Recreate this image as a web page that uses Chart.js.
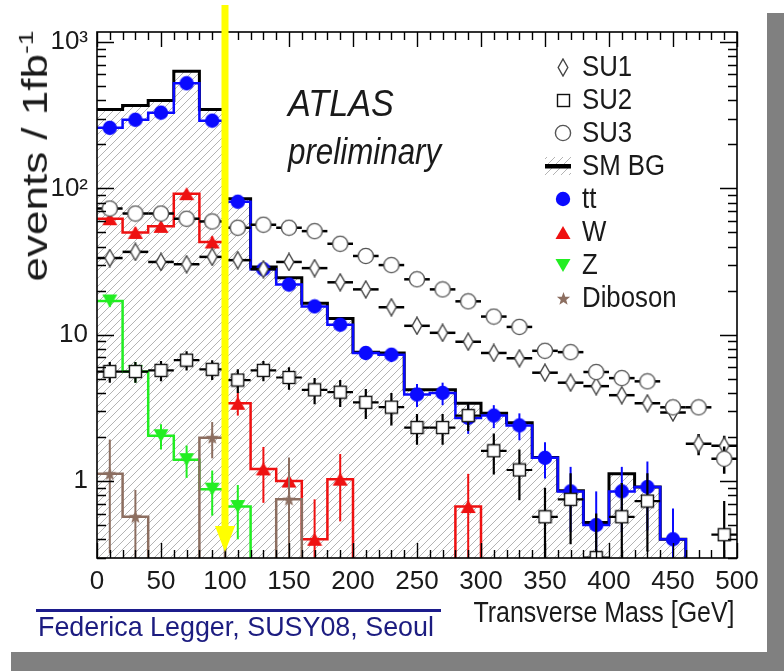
<!DOCTYPE html>
<html>
<head>
<meta charset="utf-8">
<script src="https://cdn.jsdelivr.net/npm/chart.js@4.4.0/dist/chart.umd.min.js"></script>
<style>
  html, body { margin: 0; padding: 0; background: #fff; }
  #wrap { position: relative; width: 784px; height: 671px; overflow: hidden;
          font-family: "Liberation Sans", Arial, sans-serif; }
  #c { position: absolute; left: 0; top: 0; }
  .band { position: absolute; background: #808080; }
  .t { position: absolute; white-space: nowrap; line-height: 1; color: #1a1a1a; }
</style>
</head>
<body>
<div id="wrap">
  <div class="band" style="left:767px;top:13px;width:17px;height:658px"></div>
  <div class="band" style="left:11px;top:652px;width:773px;height:19px"></div>
  <canvas id="c" width="784" height="671"></canvas>
  <div class="t" style="left:34px;top:156px;font-size:44px;transform:translate(-50%,-50%) rotate(-90deg) scaleY(0.78);">events / 1fb<sup style="font-size:60%;vertical-align:0.7em">-1</sup></div>
  <div class="t" style="left:288px;top:86px;font-size:36px;font-style:italic;transform-origin:0 0;transform:scaleX(0.95);">ATLAS</div>
  <div class="t" style="left:288px;top:134px;font-size:36px;font-style:italic;transform-origin:0 0;transform:scaleX(0.87);">preliminary</div>
  <div style="position:absolute;left:36px;top:609px;width:405px;height:3px;background:#1c1c8c"></div>
  <div class="t" style="left:38px;top:613px;font-size:28px;color:#1c1c80;transform-origin:0 0;transform:scaleX(0.96);">Federica Legger, SUSY08, Seoul</div>
  <div class="t" style="right:49px;top:598px;font-size:29px;transform-origin:100% 0;transform:scaleX(0.86);">Transverse Mass [GeV]</div>
</div>
<script>
// Transverse-mass histograms, 20 GeV bins from 0 to 500 GeV (events per 1 fb^-1)
const binCenters = [10, 30, 50, 70, 90, 110, 130, 150, 170, 190, 210, 230, 250,
                    270, 290, 310, 330, 350, 370, 390, 410, 430, 450, 470, 490];
const binWidth = 20;

// Standard Model backgrounds
const smBG     = [345, 368, 398, 631, 345, 85, 29, 24.5, 16.4, 12.9, 7.6, 7.5, 4.2,
                  4.2, 3.4, 2.9, 2.5, 1.45, 0.86, 0.52, 1.12, 0.91, 0.40, 0, 0];
const ttbar    = [259, 294, 329, 522, 290, 81, 28, 22, 15.6, 11.7, 7.5, 7.3, 3.9,
                  4.0, 2.7, 2.8, 2.4, 1.44, 0.85, 0.50, 0.85, 0.91, 0.40, 0, 0];
const ttbarErr = [6, 6, 7, 10, 6, 3, 1.6, 1.4, 1.0, 1.0, 0.8, 0.8, 0.7,
                  0.7, 0.6, 0.5, 0.5, 0.4, 0.4, 0.35, 0.4, 0.45, 0.25, 0, 0];
const wjets    = [62, 50, 55, 92, 43, 3.4, 1.21, 1.0, 0.40, 1.03, 0, 0, 0,
                  0, 0.67, 0, 0, 0, 0, 0, 0, 0, 0, 0, 0];
const wjetsErr = [4, 4, 4, 6, 4, 0.6, 0.5, 0.35, 0.35, 0.5, 0, 0, 0,
                  0, 0.45, 0, 0, 0, 0, 0, 0, 0, 0, 0, 0];
const zjets    = [17, 5.6, 2.04, 1.40, 0.88, 0.67, 0, 0, 0, 0, 0, 0, 0,
                  0, 0, 0, 0, 0, 0, 0, 0, 0, 0, 0, 0];
const zjetsErr = [1.5, 0.9, 0.4, 0.35, 0.3, 0.27, 0, 0, 0, 0, 0, 0, 0,
                  0, 0, 0, 0, 0, 0, 0, 0, 0, 0, 0, 0];
const diboson    = [1.12, 0.57, 0, 0, 1.98, 0, 0, 0.75, 0, 0, 0, 0, 0,
                    0, 0, 0, 0, 0, 0, 0, 0, 0, 0, 0, 0];
const dibosonErr = [0.8, 0.3, 0, 0, 0.55, 0, 0, 0.7, 0, 0, 0, 0, 0,
                    0, 0, 0, 0, 0, 0, 0, 0, 0, 0, 0, 0];

// SUSY benchmark points
const su1    = [33.4, 36.8, 31.4, 30.3, 34, 32.3, 28, 31.4, 28.5, 22.8, 20.4, 15.4, 11.5,
                10.3, 8.95, 7.5, 6.9, 5.5, 4.7, 4.45, 3.86, 3.4, 2.94, 1.8, 1.74];
const su1Err = [0, 0, 0, 0, 0, 0, 0, 0, 0, 0, 0, 0, 0,
                0, 0, 0, 0, 0, 0, 0, 0, 0, 0.25, 0.3, 0.3];
const su2    = [5.6, 5.6, 5.7, 6.7, 5.8, 4.9, 5.7, 5.1, 4.2, 4.05, 3.45, 3.2, 2.32,
                2.32, 2.8, 1.61, 1.19, 0.57, 0.75, 0.30, 0.57, 0.73, 0, 0, 0.43];
const su2Err = [0.9, 0.9, 0.9, 1.0, 0.9, 0.9, 0.9, 0.9, 0.85, 0.85, 0.8, 0.8, 0.55,
                0.55, 0.6, 0.5, 0.45, 0.33, 0.38, 0.3, 0.4, 0.4, 0, 0, 0.3];
const su3    = [72.8, 67.3, 67.3, 62, 59.4, 53.8, 56.4, 53.8, 51, 41.8, 34.5, 29.9, 23.9,
                20.4, 16.9, 13.3, 11.3, 7.76, 7.6, 5.56, 5.05, 4.8, 3.19, 3.19, 1.42];
const su3Err = [0, 0, 0, 0, 0, 0, 0, 0, 0, 0, 0, 0, 0,
                0, 0, 0, 0, 0, 0, 0, 0, 0, 0, 0, 0.3];

// Axis ticks
const xTickValues = [0, 50, 100, 150, 200, 250, 300, 350, 400, 450, 500];
const yTickValues = [1, 10, 100, 1000];
const yTickLabels = ['1', '10', '10\u00B2', '10\u00B3'];

// Cut marker: arrow at m_T = 100 GeV
const cutValue = 100;

const COLORS = { sm: '#000000', tt: '#0a0aff', w: '#ee1111', z: '#22ee22', vv: '#8c6e60',
                 hatch: '#b4b4b4', arrow: '#ffff00' };
const FLOOR = 1e-3;           // empty bins are drawn below the visible range

// ---------- marker images ----------
function mk(w, h, draw) {
  const c = document.createElement('canvas');
  c.width = w; c.height = h;
  draw(c.getContext('2d'), w, h);
  return c;
}
const dotImg = mk(16, 16, (g) => { g.beginPath(); g.arc(8, 8, 7.2, 0, Math.PI * 2); g.fillStyle = COLORS.tt; g.fill(); });
const triUpImg = mk(16, 15, (g) => { g.beginPath(); g.moveTo(8, 1); g.lineTo(15.5, 14); g.lineTo(0.5, 14); g.closePath(); g.fillStyle = COLORS.w; g.fill(); });
const triDownImg = mk(16, 15, (g) => { g.beginPath(); g.moveTo(0.5, 1); g.lineTo(15.5, 1); g.lineTo(8, 14); g.closePath(); g.fillStyle = COLORS.z; g.fill(); });
const starImg = mk(15, 15, (g) => {
  g.beginPath();
  for (let k = 0; k < 10; k++) {
    const r = k % 2 === 0 ? 7 : 2.9;
    const a = -Math.PI / 2 + k * Math.PI / 5;
    const px = 7.5 + r * Math.cos(a), py = 8 + r * Math.sin(a);
    k === 0 ? g.moveTo(px, py) : g.lineTo(px, py);
  }
  g.closePath(); g.fillStyle = COLORS.vv; g.fill();
});
const diamondImg = mk(12, 19, (g, w, h) => {
  g.beginPath(); g.moveTo(w / 2, 1); g.lineTo(w - 1.2, h / 2); g.lineTo(w / 2, h - 1); g.lineTo(1.2, h / 2); g.closePath();
  g.fillStyle = '#fff'; g.fill(); g.strokeStyle = '#444'; g.lineWidth = 1.4; g.stroke();
});
const squareImg = mk(15, 15, (g) => {
  g.fillStyle = '#fff'; g.fillRect(1, 1, 13, 13); g.strokeStyle = '#111'; g.lineWidth = 1.4; g.strokeRect(1.5, 1.5, 12, 12);
});
const circleImg = mk(18, 18, (g) => {
  g.beginPath(); g.arc(9, 9, 7.6, 0, Math.PI * 2); g.fillStyle = '#fff'; g.fill();
  g.strokeStyle = '#555'; g.lineWidth = 1.4; g.stroke();
});

// hatch pattern for the SM background
const hatchTile = mk(8, 8, (g) => {
  g.strokeStyle = COLORS.hatch; g.lineWidth = 1;
  g.beginPath(); g.moveTo(-1, 9); g.lineTo(9, -1); g.moveTo(-1, 1); g.lineTo(1, -1); g.moveTo(7, 9); g.lineTo(9, 7); g.stroke();
});

// ---------- data builders ----------
function stepPoints(vals) {
  const pts = vals.map((v, i) => ({ x: binCenters[i] - binWidth / 2, y: v > 0 ? v : FLOOR }));
  const last = vals[vals.length - 1];
  pts.push({ x: binCenters[binCenters.length - 1] + binWidth / 2, y: last > 0 ? last : FLOOR });
  return pts;
}
function markerPoints(vals, errs) {
  const pts = [];
  vals.forEach((v, i) => { if (v > 0) pts.push({ x: binCenters[i], y: v, e: errs ? errs[i] : 0 }); });
  return pts;
}
function histLine(label, vals, color, width, order, extra) {
  return Object.assign({ label, data: stepPoints(vals), stepped: 'before', borderColor: color,
    borderWidth: width, pointRadius: 0, fill: false, order, borderJoinStyle: 'miter' }, extra || {});
}
function markers(label, vals, errs, img, order, err) {
  return { label, data: markerPoints(vals, errs), showLine: false, pointStyle: img, pointRadius: 6,
    pointBorderWidth: 0, order, err };
}

const ctx = document.getElementById('c').getContext('2d');
const hatch = ctx.createPattern(hatchTile, 'repeat');

const datasets = [
  histLine('SM BG', smBG, COLORS.sm, 3, 30, { fill: 'start', backgroundColor: hatch }),
  histLine('tt', ttbar, COLORS.tt, 2.5, 29),
  histLine('W', wjets, COLORS.w, 2.5, 28),
  histLine('Z', zjets, COLORS.z, 2.5, 27),
  histLine('Diboson', diboson, COLORS.vv, 2.5, 26),
  markers('tt', ttbar, ttbarErr, dotImg, 25, { color: COLORS.tt, width: 2 }),
  markers('W', wjets, wjetsErr, triUpImg, 24, { color: COLORS.w, width: 2 }),
  markers('Z', zjets, zjetsErr, triDownImg, 23, { color: COLORS.z, width: 2 }),
  markers('Diboson', diboson, dibosonErr, starImg, 22, { color: COLORS.vv, width: 2 }),
  markers('SU2', su2, su2Err, squareImg, 3, { color: '#000', width: 2.2, horizontal: true }),
  markers('SU1', su1, su1Err, diamondImg, 2, { color: '#000', width: 2.5, horizontal: true }),
  markers('SU3', su3, su3Err, circleImg, 1, { color: '#000', width: 2.5, horizontal: true })
];

// error bars are drawn just before each marker set so the markers sit on top
const errorBars = {
  id: 'errorBars',
  beforeDatasetDraw(chart, args) {
    const ds = chart.data.datasets[args.index];
    if (!ds.err) return;
    const { ctx: g, chartArea: a } = chart;
    const xs = chart.scales.x, ys = chart.scales.y;
    g.save();
    g.beginPath(); g.rect(a.left, a.top, a.right - a.left, a.bottom - a.top); g.clip();
    g.strokeStyle = ds.err.color; g.lineWidth = ds.err.width; g.lineCap = 'butt';
    ds.data.forEach(p => {
      const px = xs.getPixelForValue(p.x), py = ys.getPixelForValue(p.y);
      g.beginPath();
      if (ds.err.horizontal) {
        g.moveTo(xs.getPixelForValue(p.x - binWidth / 2), py);
        g.lineTo(xs.getPixelForValue(p.x + binWidth / 2), py);
      }
      if (p.e > 0) {
        const lo = p.y - p.e;
        g.moveTo(px, ys.getPixelForValue(p.y + p.e));
        g.lineTo(px, lo > 0 ? ys.getPixelForValue(lo) : a.bottom + 4);
      }
      g.stroke();
    });
    g.restore();
  }
};

// frame with inward tick marks on all four sides
const frame = {
  id: 'frame',
  afterDatasetsDraw(chart) {
    const { ctx: g, chartArea: a } = chart;
    const xs = chart.scales.x, ys = chart.scales.y;
    g.save();
    g.strokeStyle = '#000'; g.lineWidth = 1.6;
    g.strokeRect(a.left, a.top, a.right - a.left, a.bottom - a.top);
    g.lineWidth = 1.4;
    g.beginPath();
    for (let v = xs.min; v <= xs.max; v += 10) {
      const px = Math.round(xs.getPixelForValue(v)) + 0.5;
      const len = v % 50 === 0 ? 15 : 8;
      g.moveTo(px, a.bottom); g.lineTo(px, a.bottom - len);
      g.moveTo(px, a.top); g.lineTo(px, a.top + len);
    }
    for (let d = -1; d <= 3; d++) {
      for (let k = 1; k <= 9; k++) {
        const v = k * Math.pow(10, d);
        if (v < ys.min || v > ys.max) continue;
        const py = Math.round(ys.getPixelForValue(v)) + 0.5;
        const len = k === 1 ? 17 : 9;
        g.moveTo(a.left, py); g.lineTo(a.left + len, py);
        g.moveTo(a.right, py); g.lineTo(a.right - len, py);
      }
    }
    g.stroke();
    g.restore();
  }
};

// legend inside the frame, and the cut arrow on top of everything
const legendItems = [
  { label: 'SU1', img: diamondImg },
  { label: 'SU2', img: squareImg },
  { label: 'SU3', img: circleImg },
  { label: 'SM BG', band: true },
  { label: 'tt', img: dotImg },
  { label: 'W', img: triUpImg },
  { label: 'Z', img: triDownImg },
  { label: 'Diboson', img: starImg }
];
const overlay = {
  id: 'overlay',
  afterDraw(chart) {
    const { ctx: g, chartArea: a } = chart;
    const xs = chart.scales.x;
    g.save();
    const mx = a.right - 174, tx = a.right - 155;
    g.font = '30px "Liberation Sans", Arial, sans-serif';
    g.textBaseline = 'middle';
    legendItems.forEach((it, i) => {
      const y = a.top + 35 + i * 33;
      if (it.band) {
        g.fillStyle = hatch; g.fillRect(mx - 18, y - 9, 26, 18);
        g.fillStyle = '#000'; g.fillRect(mx - 18, y - 2, 26, 4.5);
      } else {
        g.drawImage(it.img, Math.round(mx - it.img.width / 2), Math.round(y - it.img.height / 2));
      }
      g.save();
      g.translate(tx, y + 1); g.scale(0.86, 1);
      g.fillStyle = '#1a1a1a';
      g.fillText(it.label, 0, 0);
      g.restore();
    });

    // cut arrow
    const x = xs.getPixelForValue(cutValue);
    const yTop = a.top - 27, yTip = a.bottom - 6;
    g.strokeStyle = COLORS.arrow; g.lineWidth = 7;
    g.beginPath(); g.moveTo(x, yTop); g.lineTo(x, yTip - 22); g.stroke();
    g.fillStyle = COLORS.arrow;
    g.beginPath(); g.moveTo(x - 10, yTip - 26); g.lineTo(x + 10, yTip - 26); g.lineTo(x, yTip); g.closePath(); g.fill();
    g.restore();
  }
};

Chart.defaults.font.family = '"Liberation Sans", Arial, sans-serif';

new Chart(ctx, {
  type: 'line',
  data: { datasets },
  options: {
    responsive: false,
    animation: false,
    events: [],
    layout: { padding: { left: 0, top: 32, right: 47, bottom: 0 } },
    plugins: { legend: { display: false }, tooltip: { enabled: false } },
    scales: {
      x: {
        type: 'linear', min: 0, max: 500,
        afterBuildTicks: s => { s.ticks = xTickValues.map(v => ({ value: v })); },
        afterFit: s => { s.height = 113; },
        grid: { display: false, drawTicks: false },
        border: { display: false },
        ticks: { padding: 8, color: '#1a1a1a', font: { size: 26 }, autoSkip: false, maxRotation: 0,
                 callback: v => String(v) }
      },
      y: {
        type: 'logarithmic', min: 0.298, max: 1170,
        afterBuildTicks: s => { s.ticks = yTickValues.map(v => ({ value: v })); },
        afterFit: s => { s.width = 97; },
        grid: { display: false, drawTicks: false },
        border: { display: false },
        ticks: { padding: 9, color: '#1a1a1a', font: { size: 26 }, autoSkip: false,
                 callback: v => yTickLabels[yTickValues.indexOf(v)] }
      }
    }
  },
  plugins: [errorBars, frame, overlay]
});
</script>
</body>
</html>
